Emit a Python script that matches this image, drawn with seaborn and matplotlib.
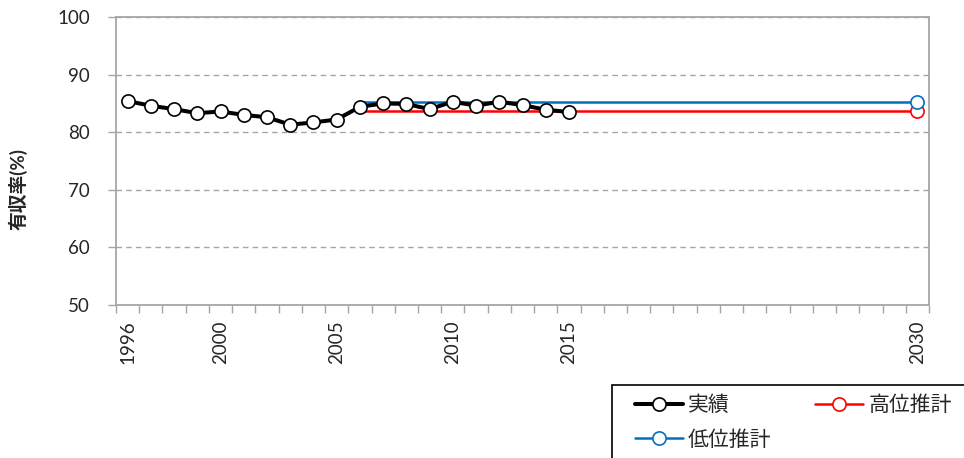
import numpy as np
import pandas as pd
import matplotlib
matplotlib.use("Agg")
import matplotlib.pyplot as plt
import matplotlib.patches as mpatches
from matplotlib.lines import Line2D
import seaborn as sns

## DATA
years = list(range(1996, 2031))
actual_years = list(range(1996, 2016))
actual = [85.4, 84.6, 84.0, 83.3, 83.6, 83.0, 82.6, 81.3, 81.7, 82.2,
          84.4, 85.0, 84.9, 84.0, 85.3, 84.6, 85.3, 84.7, 83.9, 83.5]
proj_years = [2006, 2030]
high = [83.6, 83.6]
low = [85.3, 85.3]
label_years = [1996, 2000, 2005, 2010, 2015, 2030]
ylabel = "有収率(%)"

sns.set_style("white")
plt.rcParams['font.family'] = ['Lato', 'Noto Sans CJK JP', 'DejaVu Sans']

GRAY = "#a6a6a6"
RED = "#ff0000"
BLUE = "#0070c0"
W, H = 964, 458

df_act = pd.DataFrame({"pos": [years.index(y) for y in actual_years], "val": actual})
df_high = pd.DataFrame({"pos": [years.index(y) for y in proj_years], "val": high})
df_low = pd.DataFrame({"pos": [years.index(y) for y in proj_years], "val": low})

fig = plt.figure(figsize=(9.64, 4.58), dpi=100)
ax = fig.add_axes([116 / W, 1 - 305 / H, (929 - 116) / W, (305 - 17) / H])

mk = dict(marker="o", markersize=9.5, markerfacecolor="white", markeredgewidth=1.2)
sns.lineplot(data=df_high, x="pos", y="val", ax=ax, color=RED, linewidth=1.8,
             markevery=[1], markeredgecolor=RED, zorder=3, **mk)
sns.lineplot(data=df_low, x="pos", y="val", ax=ax, color=BLUE, linewidth=1.8,
             markevery=[1], markeredgecolor=BLUE, zorder=3, **mk)
sns.lineplot(data=df_act, x="pos", y="val", ax=ax, color="black", linewidth=2.9,
             markeredgecolor="black", zorder=4, **mk)

ax.set_xlim(-0.5, len(years) - 0.5)
ax.set_ylim(50, 100)
ax.set_yticks(np.arange(50, 101, 10))
ax.yaxis.grid(True, color=GRAY, linestyle=(0, (4, 3)), linewidth=1.0)
ax.xaxis.grid(False)

ax.set_xticks([years.index(y) for y in label_years])
ax.set_xticklabels([str(y) for y in label_years], rotation=90, fontsize=13.5)
ax.set_xticks(np.arange(-0.5, len(years), 1.0), minor=True)
ax.tick_params(axis="x", which="major", length=0, pad=11)
ax.tick_params(axis="x", which="minor", length=5.5, width=1, color=GRAY, direction="out", bottom=True)
ax.tick_params(axis="y", length=5.8, width=1, color=GRAY, direction="out", left=True,
               labelsize=13.5, pad=13)

for s in ax.spines.values():
    s.set_color(GRAY)
    s.set_linewidth(1.3)

ax.set_xlabel("")
ax.set_ylabel(ylabel, fontsize=13.5, fontweight="bold", labelpad=0)
ax.yaxis.set_label_coords(28 / W, 1 - 189 / H, transform=fig.transFigure)

# legend box below the plot
fig.patches.append(mpatches.Rectangle((612 / W, 1 - 462 / H), (970 - 612) / W, (462 - 385) / H,
                                      transform=fig.transFigure, facecolor="white",
                                      edgecolor="black", linewidth=1.2, zorder=0))

handles = [
    Line2D([], [], color="black", linewidth=2.9, markeredgecolor="black", **mk),
    Line2D([], [], color=BLUE, linewidth=1.8, markeredgecolor=BLUE, **mk),
    Line2D([], [], color=RED, linewidth=1.8, markeredgecolor=RED, **mk),
]
labels = ["実績", "低位推計", "高位推計"]
leg = fig.legend(handles, labels, loc="upper left", ncol=2,
                 bbox_to_anchor=(635 / W, 1 - 395 / H),
                 fontsize=15, frameon=False, handlelength=2.3,
                 handletextpad=0.25, borderaxespad=0, borderpad=0,
                 labelspacing=0.7, columnspacing=2.1)

fig.savefig("out.png", dpi=100)
